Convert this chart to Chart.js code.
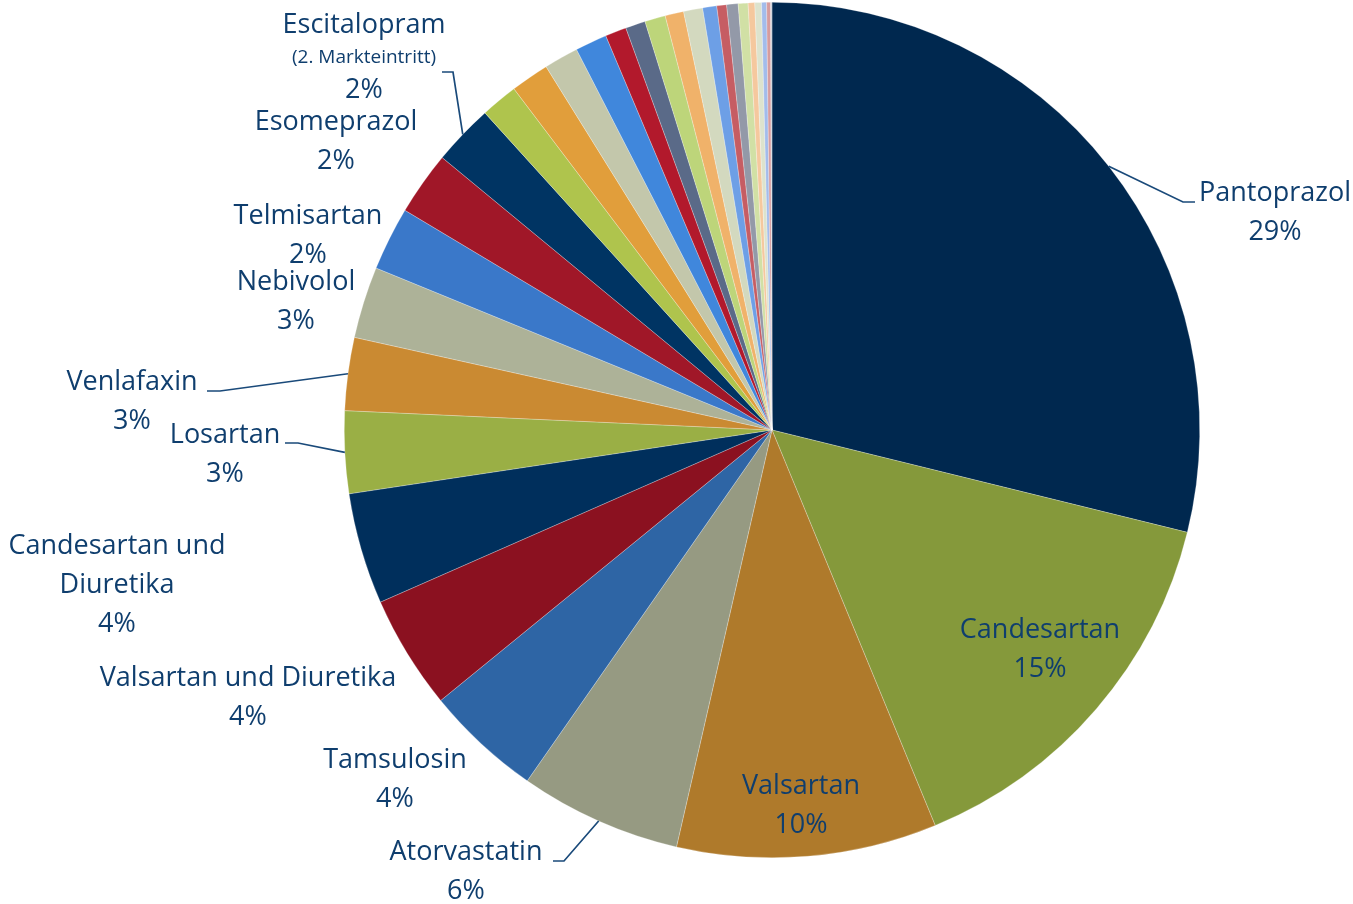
<!DOCTYPE html>
<html lang="de">
<head>
<meta charset="utf-8">
<title>Wirkstoffe nach Anteil</title>
<script src="https://cdn.jsdelivr.net/npm/chart.js@4/dist/chart.umd.min.js"></script>
<style>
  html, body { margin: 0; padding: 0; background: #fff; }
  #wrap { width: 1353px; height: 904px; position: relative; }
</style>
</head>
<body>
<div id="wrap"><canvas id="pie"></canvas></div>
<script>
// Wirkstoffe im Uhrzeigersinn ab 12 Uhr (unbenannte Kleinstanteile ohne Namen)
const wirkstoffe = [
  'Pantoprazol', 'Candesartan', 'Valsartan', 'Atorvastatin', 'Tamsulosin',
  'Valsartan und Diuretika', 'Candesartan und Diuretika', 'Losartan', 'Venlafaxin',
  'Nebivolol', 'Telmisartan', 'Esomeprazol', 'Escitalopram',
  '', '', '', '', '', '', '', '', '', '', '', '', '', '', '', '', '', ''
];
const anteile = [
  28.8, 14.9, 9.8, 6.1, 4.4,
  4.3, 4.2, 3.1, 2.75,
  2.7, 2.4, 2.4, 2.3,
  1.4, 1.45, 1.3, 1.2, 0.8, 0.75, 0.78, 0.7, 0.72, 0.53, 0.37, 0.43, 0.37, 0.25, 0.25, 0.19, 0.15, 0.05
];
const farben = [
  '#00284F', '#85993B', '#AF7A2B', '#969A82', '#2E65A5',
  '#8B1120', '#002F5C', '#9AAF45', '#CA8A32',
  '#ADB298', '#3A78C9', '#A01728', '#003463',
  '#AFC44D', '#E19E3B', '#C3C7AB', '#4087DC', '#B2192C', '#5A6A88', '#BDD57A', '#F0B26A',
  '#D3D9BF', '#6D9FE6', '#C65D63', '#9399A8', '#D1E0A5', '#F5C89E', '#DDE3CD', '#A3BCEB',
  '#D69C9E', '#C9CED6'
];

const textFarbe = '#0F3E6E';
const schrift = '"Open Sans", Lato, sans-serif';

// Beschriftungen: Textposition und optional Knick/Ende der Führungslinie
const beschriftung = {
  0: { x: 1275, y: 193.5, zeilen: ['Pantoprazol'], linie: [[1183, 202], [1195, 202]] },
  1: { x: 1040, y: 630.5, zeilen: ['Candesartan'] },
  2: { x: 801, y: 786.5, zeilen: ['Valsartan'] },
  3: { x: 466, y: 852.5, zeilen: ['Atorvastatin'], linie: [[564, 861], [553, 861]] },
  4: { x: 395, y: 760.5, zeilen: ['Tamsulosin'] },
  5: { x: 248, y: 678.5, zeilen: ['Valsartan und Diuretika'] },
  6: { x: 117, y: 546.5, zeilen: ['Candesartan und', 'Diuretika'] },
  7: { x: 225, y: 435.5, zeilen: ['Losartan'], linie: [[298, 443], [285, 443]] },
  8: { x: 132, y: 382.5, zeilen: ['Venlafaxin'], linie: [[220, 391], [207, 391]] },
  9: { x: 296, y: 282.5, zeilen: ['Nebivolol'] },
  10: { x: 308, y: 216.5, zeilen: ['Telmisartan'] },
  11: { x: 336, y: 122.5, zeilen: ['Esomeprazol'] },
  12: { x: 364, y: 25.5, zeilen: ['Escitalopram'], klein: '(2. Markteintritt)', linie: [[453, 72], [442, 72]] }
};

const labelPlugin = {
  id: 'labels',
  afterDatasetsDraw(chart) {
    const ctx = chart.ctx;
    const meta = chart.getDatasetMeta(0);
    const summe = anteile.reduce((a, b) => a + b, 0);
    ctx.save();
    ctx.fillStyle = textFarbe;
    ctx.strokeStyle = '#1A4A7A';
    ctx.lineWidth = 1.7;
    ctx.textAlign = 'center';
    ctx.textBaseline = 'middle';

    Object.keys(beschriftung).forEach(k => {
      const i = Number(k);
      const b = beschriftung[i];
      const arc = meta.data[i];

      if (b.linie) {
        const mitte = (arc.startAngle + arc.endAngle) / 2;
        const sx = arc.x + Math.cos(mitte) * arc.outerRadius;
        const sy = arc.y + Math.sin(mitte) * arc.outerRadius;
        ctx.beginPath();
        ctx.moveTo(sx, sy);
        b.linie.forEach(p => ctx.lineTo(p[0], p[1]));
        ctx.stroke();
      }

      let y = b.y;
      ctx.font = '27px ' + schrift;
      b.zeilen.forEach(z => {
        ctx.fillText(z, b.x, y);
        y += 39;
      });
      if (b.klein) {
        y -= 7;
        ctx.font = '19px ' + schrift;
        ctx.fillText(b.klein, b.x, y);
        y += 33;
        ctx.font = '27px ' + schrift;
      }
      ctx.fillText(Math.round(anteile[i] / summe * 100) + '%', b.x, y);
    });
    ctx.restore();
  }
};

new Chart(document.getElementById('pie'), {
  type: 'pie',
  data: {
    labels: wirkstoffe,
    datasets: [{
      data: anteile,
      backgroundColor: farben,
      borderColor: 'rgba(255,255,255,0.5)',
      borderWidth: 0.5
    }]
  },
  options: {
    responsive: true,
    maintainAspectRatio: false,
    animation: false,
    layout: { padding: { left: 344, right: 153, top: 2, bottom: 46 } },
    plugins: { legend: { display: false }, tooltip: { enabled: false } }
  },
  plugins: [labelPlugin]
});
</script>
</body>
</html>
